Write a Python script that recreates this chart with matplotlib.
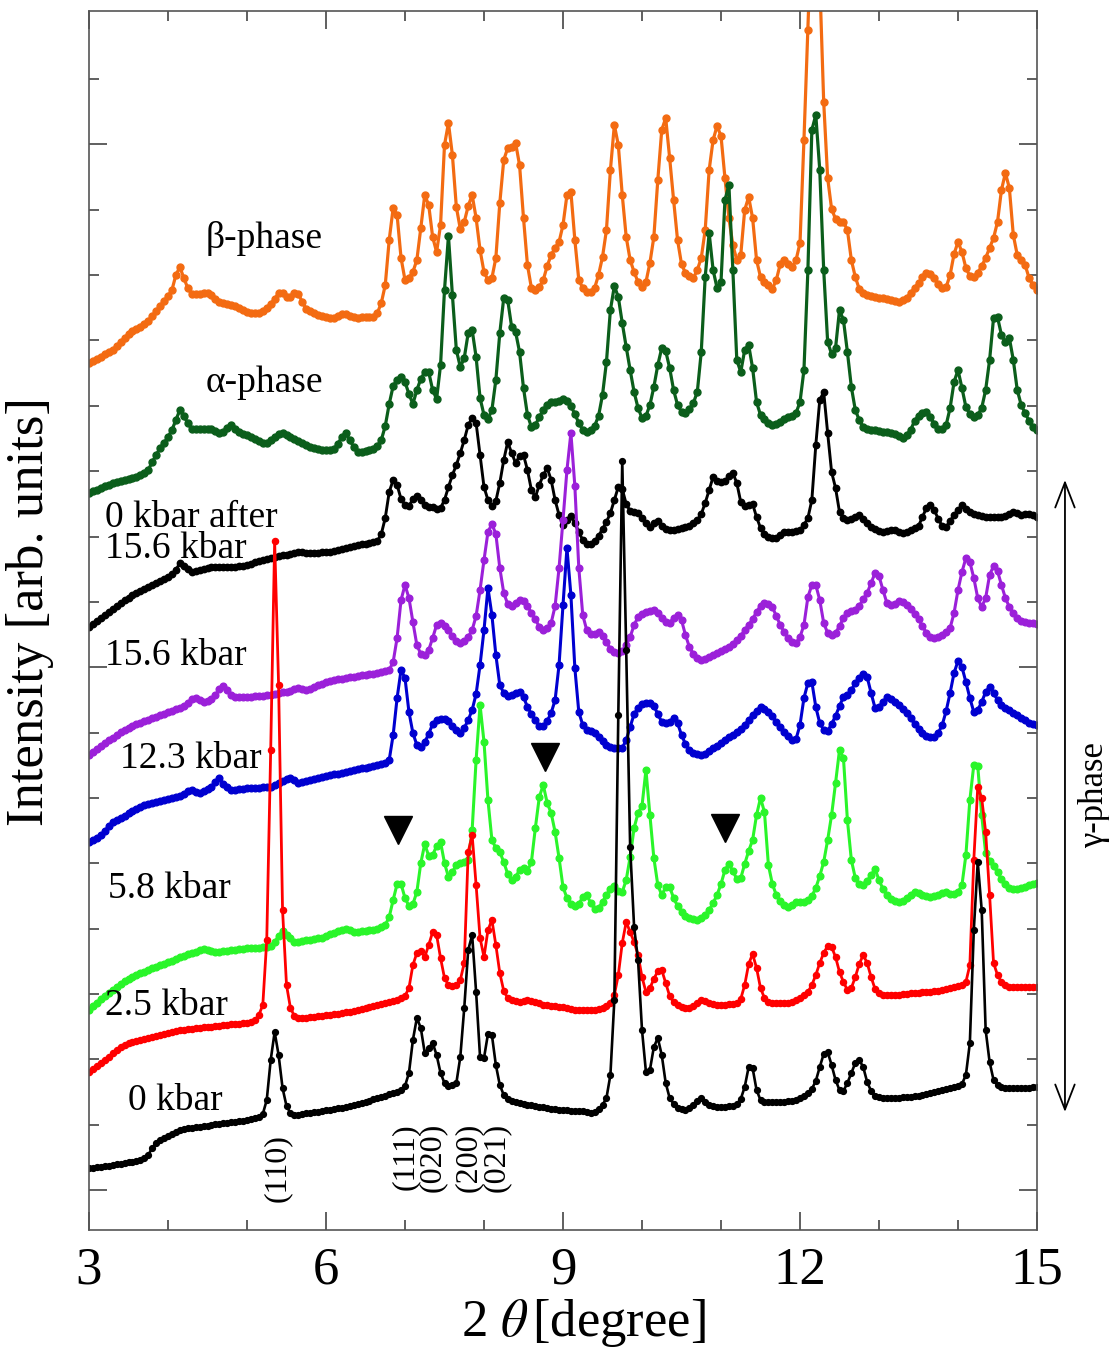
import numpy as np
import matplotlib
matplotlib.use('Agg')
import matplotlib.pyplot as plt
from matplotlib.ticker import MultipleLocator, FixedLocator

plt.rcParams['font.family'] = ['Liberation Serif', 'DejaVu Serif']
plt.rcParams['mathtext.fontset'] = 'stix'

# measurement grid, 2theta in degrees
two_theta = np.round(3 + 0.05 * np.arange(241), 2)

# stacked patterns (already offset), arb. units
beta_phase = [
    867, 869, 871, 873, 876, 878, 880, 884, 888, 892, 896, 899, 901, 903, 906, 909, 914, 919, 924, 929,
    934, 940, 955, 963, 952, 942, 936, 936, 936, 937, 937, 935, 931, 928, 927, 926, 925, 924, 922, 920,
    918, 917, 917, 917, 919, 922, 926, 931, 937, 937, 933, 933, 937, 936, 928, 921, 919, 917, 915, 914,
    913, 912, 912, 914, 916, 916, 914, 913, 912, 913, 913, 913, 913, 917, 927, 945, 990, 1022, 1015, 972,
    950, 952, 958, 970, 1002, 1035, 1025, 993, 978, 1005, 1085, 1107, 1075, 1023, 1001, 1008, 1024, 1035, 1012, 980,
    958, 950, 952, 972, 1027, 1070, 1082, 1083, 1087, 1065, 1012, 965, 942, 940, 943, 950, 964, 975, 982, 988,
    1005, 1035, 1038, 990, 950, 942, 938, 938, 942, 955, 973, 1000, 1060, 1105, 1085, 1035, 993, 970, 958, 948,
    943, 948, 967, 993, 1050, 1100, 1112, 1072, 1030, 990, 966, 957, 954, 952, 960, 972, 1000, 1060, 1090, 1104,
    1094, 1052, 1012, 985, 970, 975, 1020, 1033, 1012, 970, 953, 948, 945, 941, 950, 966, 970, 966, 963, 970,
    987, 1090, 1200, 1320, 1340, 1250, 1128, 1052, 1021, 1011, 1008, 1008, 1000, 970, 953, 941, 937, 935, 934, 933,
    932, 932, 931, 930, 929, 928, 930, 932, 937, 942, 947, 953, 957, 956, 952, 946, 942, 943, 955, 976,
    988, 978, 962, 954, 953, 957, 964, 972, 982, 992, 1008, 1040, 1057, 1042, 995, 975, 970, 965, 952, 945,
    940]

alpha_phase = [
    737, 739, 740, 742, 744, 745, 747, 748, 749, 750, 751, 752, 753, 755, 757, 760, 768, 775, 782, 787,
    793, 800, 810, 820, 814, 807, 801, 801, 801, 801, 801, 801, 799, 797, 798, 802, 805, 801, 798, 796,
    795, 793, 791, 789, 787, 787, 790, 793, 796, 797, 795, 793, 791, 789, 787, 785, 783, 782, 781, 780,
    780, 780, 781, 786, 793, 797, 790, 783, 778, 778, 779, 780, 781, 784, 790, 804, 826, 844, 850, 853,
    848, 836, 826, 840, 851, 858, 858, 840, 831, 865, 940, 994, 935, 880, 863, 872, 897, 900, 873, 832,
    815, 811, 820, 850, 897, 932, 930, 903, 898, 878, 842, 815, 803, 805, 813, 820, 825, 828, 828, 829,
    831, 829, 824, 816, 807, 800, 798, 800, 804, 814, 835, 868, 920, 944, 933, 907, 883, 860, 838, 822,
    812, 814, 825, 843, 865, 882, 879, 862, 840, 825, 818, 817, 821, 827, 838, 878, 953, 997, 960, 942,
    948, 1030, 1045, 960, 870, 858, 880, 885, 862, 828, 815, 811, 807, 805, 806, 808, 811, 813, 814, 817,
    828, 860, 960, 1100, 1115, 1060, 960, 888, 876, 882, 920, 910, 878, 843, 820, 810, 803, 801, 800, 800,
    799, 798, 798, 797, 796, 794, 792, 795, 800, 809, 814, 817, 818, 813, 806, 801, 801, 805, 822, 848,
    860, 842, 823, 816, 813, 815, 822, 840, 870, 912, 913, 895, 888, 892, 870, 840, 825, 817, 809, 803,
    800]

after_15_6 = [
    603, 606, 609, 612, 615, 618, 621, 624, 627, 630, 632, 635, 637, 639, 641, 643, 645, 647, 649, 651,
    653, 656, 660, 667, 664, 661, 658, 659, 660, 661, 662, 663, 663, 663, 663, 663, 663, 663, 664, 664,
    665, 666, 668, 669, 670, 671, 672, 673, 674, 675, 675, 676, 677, 678, 678, 677, 677, 677, 677, 678,
    678, 678, 679, 680, 681, 682, 683, 684, 685, 686, 686, 687, 688, 689, 696, 712, 738, 750, 745, 731,
    725, 724, 731, 734, 730, 725, 723, 723, 721, 722, 730, 743, 755, 765, 777, 790, 805, 812, 807, 775,
    743, 730, 724, 729, 747, 770, 788, 777, 767, 774, 775, 760, 740, 733, 745, 755, 762, 750, 730, 715,
    705, 710, 714, 707, 698, 690, 686, 686, 689, 694, 701, 708, 717, 730, 743, 741, 726, 719, 718, 717,
    712, 707, 703, 707, 709, 704, 701, 700, 700, 701, 702, 703, 704, 707, 710, 716, 727, 740, 753, 749,
    748, 749, 754, 757, 747, 728, 724, 725, 726, 713, 702, 696, 693, 692, 692, 695, 698, 698, 698, 699,
    700, 705, 712, 730, 785, 830, 838, 797, 758, 742, 718, 712, 710, 711, 713, 715, 711, 707, 703, 701,
    699, 698, 699, 700, 700, 698, 697, 698, 700, 702, 704, 713, 722, 725, 720, 711, 704, 703, 709, 715,
    720, 725, 721, 718, 716, 715, 714, 713, 713, 713, 713, 713, 714, 716, 718, 717, 715, 716, 716, 715,
    713]

p_15_6 = [
    475, 478, 481, 484, 487, 490, 492, 495, 498, 500, 502, 504, 506, 507, 509, 510, 512, 513, 515, 516,
    518, 519, 521, 522, 524, 527, 531, 532, 530, 528, 529, 531, 535, 541, 544, 540, 535, 533, 533, 533,
    533, 533, 534, 534, 534, 535, 535, 536, 537, 538, 538, 539, 541, 542, 541, 540, 541, 543, 545, 546,
    548, 549, 550, 551, 551, 552, 553, 553, 554, 555, 555, 556, 556, 557, 558, 559, 560, 568, 592, 630,
    645, 632, 608, 585, 576, 575, 580, 592, 605, 607, 604, 600, 594, 589, 587, 589, 593, 600, 614, 640,
    670, 698, 706, 696, 662, 637, 626, 624, 627, 630, 629, 624, 617, 611, 603, 600, 602, 607, 624, 662,
    710, 760, 797, 744, 662, 615, 600, 596, 596, 598, 594, 588, 581, 578, 577, 579, 585, 593, 605, 613,
    616, 618, 619, 620, 617, 612, 608, 607, 612, 615, 610, 595, 583, 576, 572, 570, 571, 573, 575, 577,
    579, 581, 583, 586, 590, 594, 600, 605, 611, 618, 624, 627, 626, 623, 614, 605, 598, 592, 588, 587,
    593, 605, 633, 645, 645, 630, 607, 597, 595, 597, 604, 612, 617, 619, 620, 624, 631, 637, 647, 657,
    654, 640, 627, 625, 626, 629, 628, 625, 621, 616, 611, 604, 597, 593, 592, 593, 595, 598, 602, 617,
    640, 658, 672, 668, 652, 632, 623, 632, 655, 664, 659, 645, 632, 623, 617, 612, 609, 608, 607, 607,
    606]

p_12_3 = [
    388, 390, 392, 395, 399, 404, 408, 410, 412, 414, 417, 419, 421, 423, 425, 426, 427, 428, 429, 430,
    431, 432, 433, 434, 436, 439, 440, 438, 437, 439, 441, 443, 448, 452, 446, 443, 440, 440, 441, 441,
    442, 442, 442, 442, 443, 443, 443, 445, 447, 449, 451, 452, 450, 447, 448, 449, 450, 451, 452, 453,
    454, 455, 456, 456, 457, 458, 459, 460, 461, 462, 462, 463, 464, 465, 466, 467, 470, 495, 532, 560,
    552, 518, 497, 485, 483, 488, 496, 506, 510, 511, 511, 509, 504, 500, 497, 502, 510, 520, 536, 565,
    600, 642, 615, 575, 545, 537, 534, 535, 537, 538, 533, 523, 516, 510, 504, 504, 509, 517, 530, 565,
    625, 682, 635, 562, 518, 505, 500, 499, 497, 493, 489, 485, 483, 482, 482, 482, 490, 503, 516, 522,
    526, 527, 527, 524, 516, 508, 507, 508, 512, 507, 495, 486, 480, 477, 476, 475, 476, 479, 482, 484,
    487, 490, 493, 495, 498, 501, 505, 510, 515, 519, 523, 521, 518, 514, 508, 503, 498, 494, 490, 491,
    505, 532, 547, 548, 523, 507, 500, 499, 506, 514, 524, 533, 535, 540, 547, 552, 556, 553, 537, 522,
    523, 528, 533, 531, 528, 525, 521, 517, 512, 506, 501, 497, 494, 493, 493, 497, 505, 519, 537, 557,
    569, 563, 548, 532, 518, 520, 528, 538, 543, 537, 530, 525, 522, 520, 517, 515, 512, 510, 507, 506,
    505]

p_5_8 = [
    220, 224, 227, 231, 234, 237, 240, 243, 246, 249, 251, 253, 255, 257, 258, 260, 262, 263, 265, 266,
    268, 269, 271, 273, 274, 276, 277, 278, 280, 281, 280, 279, 278, 278, 279, 279, 280, 280, 281, 281,
    282, 282, 282, 282, 283, 283, 284, 288, 294, 299, 295, 292, 288, 288, 289, 290, 290, 291, 292, 292,
    294, 296, 297, 299, 300, 301, 300, 298, 298, 299, 299, 300, 300, 301, 303, 305, 313, 330, 346, 346,
    332, 324, 326, 338, 367, 386, 374, 375, 384, 388, 367, 353, 358, 365, 367, 368, 370, 400, 470, 525,
    488, 430, 390, 382, 378, 368, 356, 350, 353, 360, 362, 359, 368, 402, 433, 445, 427, 417, 398, 372,
    343, 332, 326, 324, 326, 333, 335, 327, 321, 322, 328, 335, 341, 344, 339, 338, 350, 373, 402, 417,
    424, 460, 415, 372, 345, 335, 343, 343, 332, 324, 318, 314, 312, 311, 310, 312, 315, 320, 327, 335,
    346, 360, 366, 359, 351, 352, 366, 379, 390, 415, 432, 418, 365, 346, 335, 329, 325, 323, 325, 328,
    328, 328, 330, 334, 342, 354, 368, 390, 415, 447, 480, 472, 410, 370, 352, 346, 345, 349, 355, 361,
    350, 341, 335, 331, 329, 328, 329, 332, 335, 338, 337, 335, 334, 333, 334, 335, 337, 338, 336, 336,
    338, 345, 375, 430, 465, 464, 415, 377, 369, 364, 358, 351, 346, 342, 341, 341, 342, 343, 345, 346,
    347]

p_2_5 = [
    158, 161, 164, 167, 170, 173, 177, 180, 183, 185, 187, 188, 189, 190, 191, 192, 193, 194, 195, 196,
    197, 198, 199, 200, 200, 201, 201, 202, 202, 203, 203, 203, 204, 204, 205, 205, 206, 206, 206, 207,
    207, 208, 210, 215, 225, 290, 480, 689, 545, 320, 245, 222, 214, 212, 212, 212, 213, 213, 214, 214,
    215, 215, 216, 216, 217, 218, 218, 219, 220, 221, 222, 223, 224, 225, 226, 227, 228, 229, 230, 232,
    234, 242, 265, 277, 279, 273, 285, 298, 295, 272, 252, 245, 244, 245, 250, 267, 378, 395, 345, 292,
    273, 300, 310, 285, 257, 239, 232, 230, 229, 228, 229, 230, 229, 228, 227, 225, 225, 224, 224, 223,
    223, 222, 221, 220, 220, 220, 220, 220, 220, 221, 222, 224, 227, 235, 255, 287, 308, 298, 288, 275,
    253, 238, 242, 251, 259, 260, 247, 234, 228, 225, 223, 222, 222, 224, 227, 230, 229, 227, 226, 225,
    225, 225, 226, 226, 227, 231, 245, 266, 276, 262, 242, 232, 228, 227, 227, 227, 227, 227, 228, 230,
    232, 235, 238, 245, 255, 267, 277, 284, 283, 273, 258, 248, 240, 242, 253, 266, 275, 267, 253, 241,
    237, 235, 235, 235, 235, 235, 236, 236, 237, 237, 237, 238, 238, 238, 239, 239, 240, 241, 242, 243,
    244, 245, 248, 265, 370, 443, 432, 398, 335, 267, 255, 248, 245, 243, 243, 243, 243, 243, 243, 243,
    243]

p_0 = [
    62, 62, 63, 63, 64, 64, 65, 66, 66, 67, 68, 68, 69, 70, 72, 75, 82, 87, 90, 92,
    94, 96, 98, 100, 101, 102, 102, 103, 103, 104, 104, 105, 106, 106, 107, 107, 108, 108, 109, 109,
    110, 111, 112, 113, 116, 130, 170, 198, 175, 142, 124, 117, 115, 115, 116, 117, 117, 118, 118, 119,
    120, 120, 121, 122, 122, 123, 124, 125, 126, 127, 128, 129, 131, 132, 133, 134, 136, 137, 138, 140,
    144, 157, 190, 212, 202, 177, 182, 187, 175, 157, 147, 144, 145, 147, 173, 222, 280, 295, 238, 173,
    172, 196, 195, 165, 145, 135, 131, 129, 128, 127, 126, 125, 125, 124, 123, 123, 122, 121, 121, 120,
    120, 120, 119, 119, 119, 119, 118, 117, 118, 121, 125, 132, 155, 230, 515, 769, 580, 383, 303, 270,
    200, 158, 160, 183, 192, 175, 147, 132, 126, 122, 121, 120, 122, 125, 129, 132, 128, 125, 124, 123,
    123, 123, 124, 124, 126, 131, 143, 163, 162, 140, 130, 128, 128, 128, 128, 128, 128, 129, 129, 130,
    132, 134, 137, 141, 149, 163, 176, 178, 165, 150, 140, 139, 147, 157, 167, 170, 163, 148, 139, 134,
    133, 132, 132, 132, 132, 132, 133, 133, 133, 134, 134, 135, 136, 137, 138, 139, 140, 141, 142, 143,
    144, 146, 155, 187, 300, 368, 320, 200, 168, 150, 145, 143, 142, 142, 142, 142, 142, 142, 142, 143,
    143]

# (values, colour, line width, marker size)
series = [
    (beta_phase, '#f36b12', 2.3, 5.0),
    (alpha_phase, '#0b5e1b', 2.3, 5.0),
    (after_15_6, '#000000', 2.1, 4.6),
    (p_15_6, '#9b20d9', 2.2, 4.8),
    (p_12_3, '#0000d0', 2.2, 4.8),
    (p_5_8, '#2af52a', 2.2, 4.8),
    (p_2_5, '#ff0000', 2.0, 4.4),
    (p_0, '#000000', 1.9, 4.2),
]

labels = ['β-phase', 'α-phase', '0 kbar after\n15.6 kbar', '15.6 kbar',
          '12.3 kbar', '5.8 kbar', '2.5 kbar', '0 kbar']
label_x = [4.47, 4.47, 3.20, 3.20, 3.39, 3.24, 3.20, 3.49]
label_y = [992, 847, 697, 574, 471, 341, 224, 129]

hkl = ['(110)', '(111)', '(020)', '(200)', '(021)']
hkl_x = [5.38, 7.00, 7.35, 7.80, 8.16]
hkl_y = [62, 73, 73, 73, 73]

# new reflections marked with triangles
tri_x = [6.91, 8.77, 11.05]
tri_y = [400, 473, 402]

fig = plt.figure(figsize=(11.09, 13.52), dpi=100)
ax = fig.add_axes([89 / 1109, 1 - 1230 / 1352, 948 / 1109, 1219 / 1352])

for y, c, lw, ms in series:
    ax.plot(two_theta, y, '-o', color=c, lw=lw, ms=ms, mec=c, mfc=c)

for t, x, y in zip(labels, label_x, label_y):
    ax.text(x, y, t, fontsize=27, ha='left', va='center', linespacing=0.85)

for t, x, y in zip(hkl, hkl_x, hkl_y):
    ax.text(x, y, t, fontsize=23, rotation=90, ha='center', va='center')

ax.plot(tri_x, tri_y, 'v', color='black', ms=20)

# gamma-phase range on the right
ax.annotate('', xy=(15.354, 118), xytext=(15.354, 750),
            arrowprops=dict(arrowstyle='<->,head_length=0.9,head_width=0.35',
                            lw=1.3, color='black', mutation_scale=20,
                            shrinkA=0, shrinkB=0),
            annotation_clip=False)
ax.text(15.73, 435, 'γ-phase', fontsize=25, rotation=90, ha='center', va='center',
        clip_on=False)

ax.set_xlim(3, 15)
ax.set_ylim(0, 1219)
ax.xaxis.set_major_locator(MultipleLocator(3))
ax.xaxis.set_minor_locator(MultipleLocator(1))
yt = [40 + 65.35 * k for k in range(18)]
ax.yaxis.set_major_locator(FixedLocator([yt[0], yt[8], yt[16]]))
ax.yaxis.set_minor_locator(FixedLocator(yt))
ax.set_yticklabels([])
ax.tick_params(which='both', direction='in', top=True, right=True,
               width=1.2, color='#444')
ax.tick_params(which='major', length=13, labelsize=38, pad=12)
ax.tick_params(which='minor', length=7)
for s in ax.spines.values():
    s.set_linewidth(1.2)
    s.set_color('#555')

fig.text(30 / 1109, 1 - 612 / 1352, 'Intensity [arb. units]', rotation=90,
         fontsize=38, ha='center', va='center')
fig.text(583 / 1109, 1 - 1323 / 1352, r'2 $\theta\,$[degree]', fontsize=38,
         ha='center', va='center')

fig.savefig('out.png', dpi=100)
